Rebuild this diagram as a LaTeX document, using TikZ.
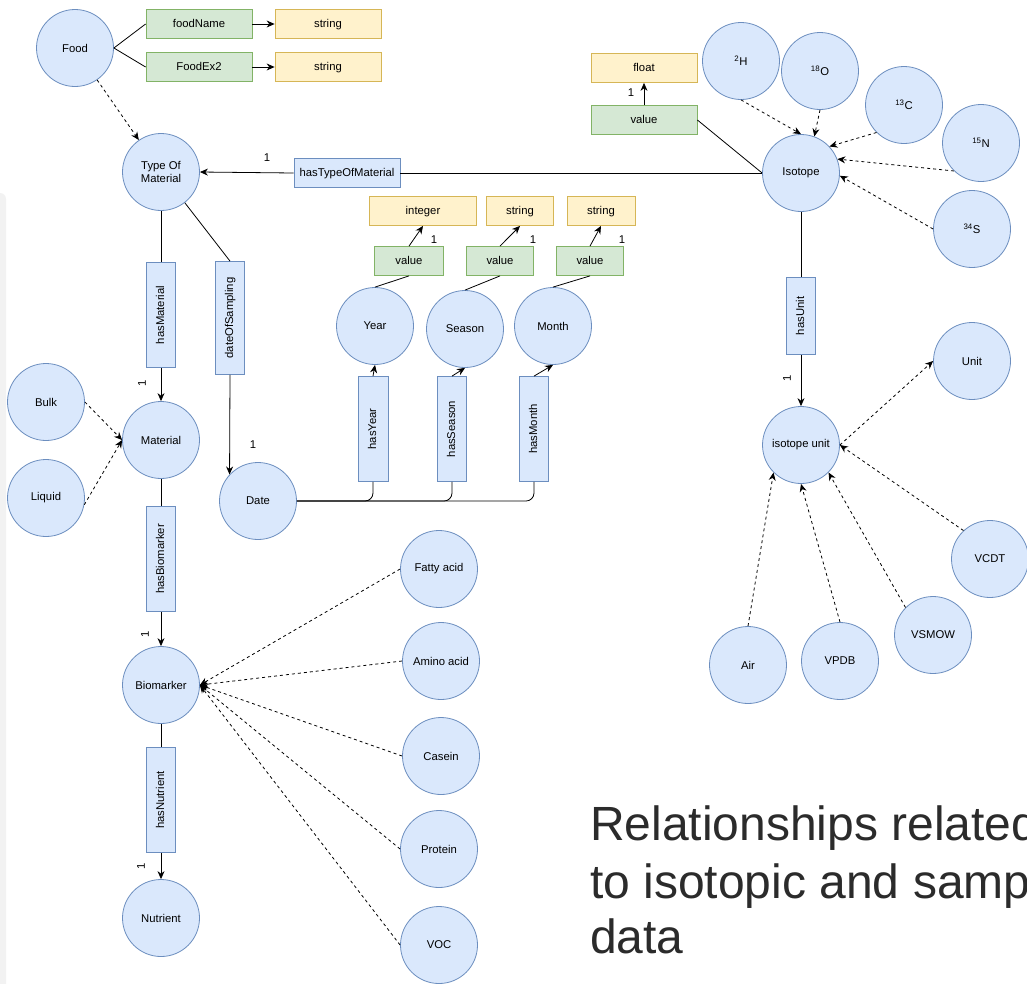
\documentclass[tikz,border=0pt]{standalone}
\usepackage{fontspec}
\setmainfont{Liberation Sans}
\usetikzlibrary{
    shapes,
    arrows.meta,
    positioning,
    calc}
\definecolor{entfill}{HTML}{DAE8FC}
\definecolor{entdraw}{HTML}{6C8EBF}
\definecolor{attfill}{HTML}{D5E8D4}
\definecolor{attdraw}{HTML}{82B366}
\definecolor{typfill}{HTML}{FFF2CC}
\definecolor{typdraw}{HTML}{D6B656}
\definecolor{panelgray}{HTML}{F2F2F2}
\definecolor{titlegray}{HTML}{2B2B2B}
\newcommand*{\lblfont}{\fontsize{11.3}{13}\selectfont}
\tikzset{
  entity/.style={circle, draw=entdraw, fill=entfill, line width=0.8pt,
    minimum size=77pt, inner sep=0pt, align=center, font=\lblfont},
  attrbox/.style={rectangle, draw=attdraw, fill=attfill, line width=0.8pt,
    minimum height=29pt, inner sep=0pt, font=\lblfont,
    text height=8pt, text depth=2pt},
  typebox/.style={rectangle, draw=typdraw, fill=typfill, line width=0.8pt,
    minimum height=29pt, inner sep=0pt, font=\lblfont,
    text height=8pt, text depth=2pt},
  relbox/.style={rectangle, draw=entdraw, fill=entfill, line width=0.8pt,
    minimum height=29pt, inner sep=0pt, font=\lblfont,
    text height=8pt, text depth=2pt},
  vrel/.style={relbox, rotate=90},
  link/.style={line width=0.8pt},
  arr/.style={link, -{Stealth[length=8pt,width=7pt]}},
  isa/.style={arr, dash pattern=on 3pt off 3pt},
  card/.style={inner sep=0pt, font=\lblfont},
  title/.style={inner sep=0pt, anchor=base west, text=titlegray,
    font=\fontsize{48}{57}\selectfont}
}
\begin{document}
\begin{tikzpicture}[x=1pt, y=-1pt]
    \fill[white] (0,0) rectangle (1027,983);
    \clip (0,0) rectangle (1027,983);
    \fill[panelgray, rounded corners=6pt] (-20,193) rectangle (6,1010);

    % food part
    \node[entity] (food) at (75,48) {Food};
    \node[attrbox, minimum width=106pt] (foodname) at (199,24) {foodName};
    \node[attrbox, minimum width=106pt] (foodex) at (199,67) {FoodEx2};
    \node[typebox, minimum width=106pt] (str1) at (328,24) {string};
    \node[typebox, minimum width=106pt] (str2) at (328,67) {string};
    \draw[link] (food.east) -- (foodname.west);
    \draw[link] (food.east) -- (foodex.west);
    \draw[arr] (foodname) -- (str1);
    \draw[arr] (foodex) -- (str2);

    % type of material, material, biomarker, nutrient
    \node[entity] (tom) at (161,172) {Type Of\\Material};
    \draw[isa] (food) -- (tom);
    \node[vrel, minimum width=105pt] (hasmat) at (161,315) {hasMaterial};
    \node[entity] (material) at (161,440) {Material};
    \node[entity] (bulk) at (46,402) {Bulk};
    \node[entity] (liquid) at (46,498) {Liquid};
    \node[vrel, minimum width=105pt] (hasbio) at (161,559) {hasBiomarker};
    \node[entity] (biomarker) at (161,685) {Biomarker};
    \node[vrel, minimum width=105pt] (hasnut) at (161,800) {hasNutrient};
    \node[entity] (nutrient) at (161,918) {Nutrient};
    \draw[link] (tom) -- (hasmat.east);
    \draw[arr] (hasmat.west) -- (material);
    \draw[isa] (bulk.east) -- (material.west);
    \draw[isa] (liquid.-10) -- (material.west);
    \draw[link] (material) -- (hasbio.east);
    \draw[arr] (hasbio.west) -- (biomarker);
    \draw[link] (biomarker) -- (hasnut.east);
    \draw[arr] (hasnut.west) -- (nutrient);
    \node[card, rotate=90] (c1) at (142,383) {1};
    \node[card, rotate=90] (c2) at (145,634) {1};
    \node[card, rotate=90] (c3) at (141,866) {1};

    % biomarker kinds
    \node[entity] (fatty) at (439,569) {Fatty acid};
    \node[entity] (amino) at (441,661) {Amino acid};
    \node[entity] (casein) at (441,756) {Casein};
    \node[entity] (protein) at (439,849) {Protein};
    \node[entity] (voc) at (439,945) {VOC};
    \foreach \k in {fatty,amino,casein,protein,voc}
      \draw[isa] (\k.west) -- (biomarker.east);

    % date of sampling
    \node[vrel, minimum width=113pt] (hasdate) at (230,318) {dateOfSampling};
    \node[entity] (date) at (258,501) {Date};
    \draw[link] (tom) -- (hasdate.east);
    \draw[arr] (hasdate.west) -- (date.137);
    \node[card] (c4) at (253,445) {1};
    \node[entity] (year) at (375,326) {Year};
    \node[entity] (season) at (465,329) {Season};
    \node[entity] (month) at (553,326) {Month};
    \node[vrel, minimum width=105pt, minimum height=30pt] (hasyear) at (373,429) {hasYear};
    \node[vrel, minimum width=105pt] (hasseason) at (452,429) {hasSeason};
    \node[vrel, minimum width=105pt] (hasmonth) at (534,429) {hasMonth};
    \draw[link, rounded corners=8pt] (date.east) -| (hasyear.west);
    \draw[link, rounded corners=8pt] (date.east) -| (hasseason.west);
    \draw[link, rounded corners=8pt] (date.east) -| (hasmonth.west);
    \draw[arr] (hasyear.east) -- (year.south);
    \draw[arr] (hasseason.east) -- (season.south);
    \draw[arr] (hasmonth.east) -- (month.south);
    \node[attrbox, minimum width=69pt] (yearval) at (409,261) {value};
    \node[attrbox, minimum width=67pt] (seasonval) at (500,261) {value};
    \node[attrbox, minimum width=67pt] (monthval) at (590,261) {value};
    \node[typebox, minimum width=107pt] (yeartype) at (423,211) {integer};
    \node[typebox, minimum width=67pt] (seasontype) at (520,211) {string};
    \node[typebox, minimum width=68pt] (monthtype) at (601,211) {string};
    \draw[link] (year.north) -- (yearval.south);
    \draw[link] (season.north) -- (seasonval.south);
    \draw[link] (month.north) -- (monthval.south);
    \draw[arr] (yearval.north) -- (yeartype.south);
    \draw[arr] (seasonval.north) -- (seasontype.south);
    \draw[arr] (monthval.north) -- (monthtype.south);
    \node[card] (c5) at (434,240) {1};
    \node[card] (c6) at (533,240) {1};
    \node[card] (c7) at (622,240) {1};

    % isotope part
    \node[entity] (isotope) at (801,173) {Isotope};
    \node[relbox, minimum width=106pt] (hastom) at (347,173) {hasTypeOfMaterial};
    \draw[link] (isotope.west) -- (hastom.east);
    \draw[arr] (hastom.west) -- (tom.east);
    \node[card] (c8) at (267,158) {1};
    \node[attrbox, minimum width=106pt] (isoval) at (644,120) {value};
    \node[typebox, minimum width=106pt] (isotype) at (644,68) {float};
    \draw[link] (isoval.east) -- (isotope.west);
    \draw[arr] (isoval.north) -- (isotype.south);
    \node[card] (c9) at (631,93) {1};
    \node[entity] (h2) at (741,61) {\textsuperscript{2}H};
    \node[entity] (o18) at (820,71) {\textsuperscript{18}O};
    \node[entity] (c13) at (904,105) {\textsuperscript{13}C};
    \node[entity] (n15) at (981,143) {\textsuperscript{15}N};
    \node[entity] (s34) at (972,229) {\textsuperscript{34}S};
    \draw[isa] (h2.south) -- (isotope.north);
    \draw[isa] (o18.south) -- (isotope.70);
    \draw[isa] (c13.225) -- (isotope.43);
    \draw[isa] (n15.226) -- (isotope.21);
    \draw[isa] (s34.west) -- (isotope.-4);

    % isotope unit
    \node[vrel, minimum width=77pt] (hasunit) at (801,316) {hasUnit};
    \node[entity] (isounit) at (801,445) {isotope unit};
    \draw[link] (isotope) -- (hasunit.east);
    \draw[arr] (hasunit.west) -- (isounit);
    \node[card, rotate=90] (c10) at (787,378) {1};
    \node[entity] (unit) at (972,361) {Unit};
    \node[entity] (vcdt) at (990,559) {VCDT};
    \node[entity] (vsmow) at (933,635) {VSMOW};
    \node[entity] (vpdb) at (840,661) {VPDB};
    \node[entity] (air) at (748,665) {Air};
    \draw[isa] (isounit.east) -- (unit.west);
    \draw[isa] (vcdt.133) -- (isounit.east);
    \draw[isa] (vsmow.135) -- (isounit.-45);
    \draw[isa] (vpdb.north) -- (isounit.south);
    \draw[isa] (air.north) -- (isounit.225);

    % caption
    \node[title] (t1) at (590,840) {Relationships related};
    \node[title] (t2) at (590,898) {to isotopic and sampling};
    \node[title] (t3) at (590,953) {data};
\end{tikzpicture}
\end{document}
